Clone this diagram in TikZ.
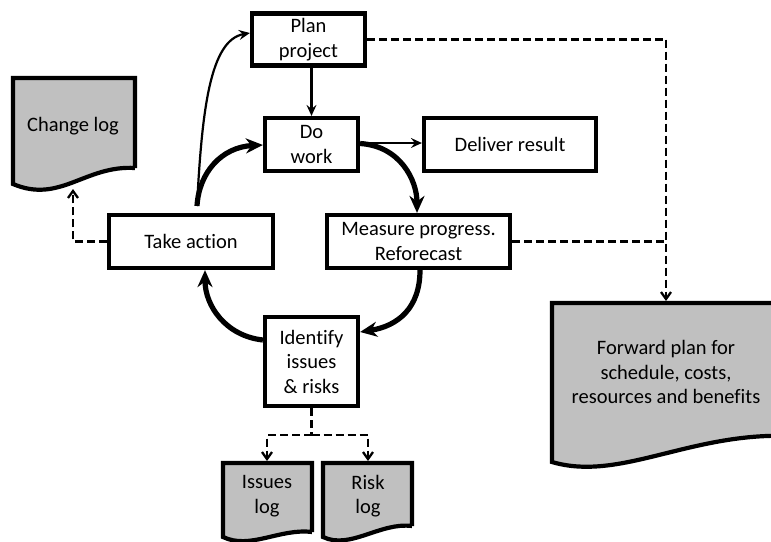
\documentclass[tikz,border=0pt]{standalone}
\usepackage{fontspec}
\setmainfont{Carlito}[Ligatures={NoCommon}]
\usetikzlibrary{arrows.meta}
\definecolor{docfill}{RGB}{192,192,192}
\tikzset{
  box/.style={draw, line width=4.2pt, inner sep=0pt, align=center, font=\fontsize{20.5}{24.5}\selectfont},
  doctext/.style={inner sep=0pt, align=center, font=\fontsize{20.5}{24.5}\selectfont},
  docshape/.style={draw, fill=docfill, line width=4.2pt, line join=miter},
  thinarrow/.style={line width=2.2pt, -{Stealth[length=11pt,width=10pt,inset=4pt]}},
  flow/.style={line width=5.2pt, -{Stealth[length=17pt,width=15pt,inset=5.5pt]}},
  dashlink/.style={line width=2.3pt, dash pattern=on 8pt off 4pt},
  dasharrow/.style={dashlink, -{Straight Barb[length=7pt,width=10pt]}}
}
\begin{document}
\begin{tikzpicture}[x=1pt, y=-1pt]
\useasboundingbox (0,0) rectangle (771,541);
\clip (0,0) rectangle (771,541);

% document-shaped outputs (wavy bottom edge)
\draw[docshape] (135,168) -- (135,78) -- (13,78) -- (13,184)
  .. controls (60,204) and (85,165) .. (135,168);
\node[doctext] (changelog) at (73,126) {Change log};

\draw[docshape] (790,436) -- (790,303) -- (552,303) -- (552,462)
  .. controls (620,482) and (690,432) .. (790,436);
\node[doctext] (forward) at (666,372) {Forward plan for\\schedule, costs,\\resources and benefits};

\draw[docshape] (312,532) -- (312,463) -- (223,463) -- (223,537)
  .. controls (250,550) and (280,528) .. (312,532);
\node[doctext] (issueslog) at (267,496) {Issues\\log};

\draw[docshape] (412,526) -- (412,463) -- (323,463) -- (323,537)
  .. controls (350,550) and (380,522) .. (412,526);
\node[doctext] (risklog) at (368,496) {Risk\\log};

% process boxes
\node[box, minimum width=113pt, minimum height=52pt] (plan) at (308.5,39.5) {Plan\\project};
\node[box, minimum width=93pt, minimum height=53pt] (work) at (311.5,144.5) {Do\\work};
\node[box, minimum width=172pt, minimum height=53pt] (deliver) at (510,144.5) {Deliver result};
\node[box, minimum width=183pt, minimum height=53pt] (measure) at (418.5,241.5) {Measure progress.\\Reforecast};
\node[box, minimum width=164pt, minimum height=53pt] (action) at (191,241.5) {Take action};
\node[box, minimum width=93pt, minimum height=89pt] (identify) at (311.5,361.5) {Identify\\issues\\\& risks};

% junction points
\coordinate (loopstart) at (197,206);
\coordinate (fpcorner) at (666,39.5);
\coordinate (fpjoin) at (666,241.5);
\coordinate (fptop) at (666,301);
\coordinate (clcorner) at (73,241.5);
\coordinate (cltip) at (73,189);
\coordinate (split) at (311.5,435);
\coordinate (splitl) at (267,435);
\coordinate (splitr) at (368,435);

% main cycle
\draw[flow] (work.east) ++(0,-1) .. controls (400,146) and (417,180) .. (measure.north -| 417,0);
\draw[flow] (measure.south -| 420,0) .. controls (420,308) and (398,326) .. (identify.east |- 0,332);
\draw[flow] (identify.west |- 0,340) .. controls (226,336) and (205,306) .. (action.south -| 205,0);
\draw[flow] (loopstart) .. controls (199,172) and (222,147) .. (work.west |- 0,145);

% thin links
\draw[thinarrow] (loopstart) .. controls (202,110) and (210,40) .. (plan.west |- 0,33);
\draw[thinarrow] (plan.south -| work.north) -- (work.north);
\draw[thinarrow] (work.east |- 0,143) -- (deliver.west |- 0,143);

% dashed links to logs and plans
\draw[dashlink] (plan.east) -- (fpcorner);
\draw[dasharrow] (fpcorner) -- (fptop);
\draw[dashlink] (measure.east) -- (fpjoin);
\draw[dasharrow] (action.west) -- (clcorner) -- (cltip);
\draw[dashlink] (identify.south) -- (split);
\draw[dasharrow] (split) -- (splitl) -- (issueslog.north |- 0,461);
\draw[dasharrow] (split) -- (splitr) -- (risklog.north |- 0,461);
\end{tikzpicture}
\end{document}
